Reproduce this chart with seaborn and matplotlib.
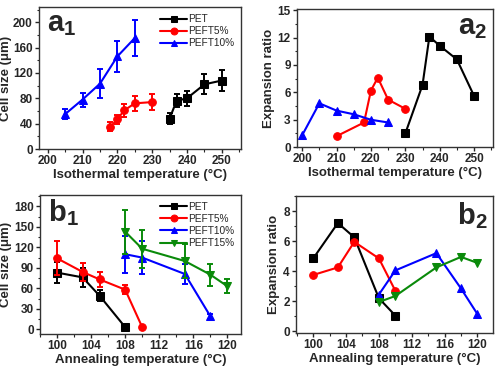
import numpy as np
import pandas as pd
import matplotlib
matplotlib.use("Agg")
import matplotlib.pyplot as plt
import seaborn as sns
from matplotlib.ticker import MultipleLocator, AutoMinorLocator

# ---- data ----
# a1 / a2: isothermal temperature series
pet_iso_t = [235, 237, 240, 245, 250]
pet_iso_size = [48, 76, 80, 102, 108]
pet_iso_err = [8, 10, 12, 16, 17]
peft5_iso_t = [218, 220, 222, 225, 230]
peft5_iso_size = [35, 47, 61, 72, 74]
peft5_iso_err = [7, 7, 10, 12, 13]
peft10_iso_t = [205, 210, 215, 220, 225]
peft10_iso_size = [55, 78, 103, 146, 175]
peft10_iso_err = [8, 11, 23, 25, 29]

pet_iso_t2 = [230, 235, 237, 240, 245, 250]
pet_iso_ratio = [1.5, 6.8, 12.1, 11.1, 9.6, 5.6]
peft5_iso_t2 = [210, 218, 220, 222, 225, 230]
peft5_iso_ratio = [1.2, 2.7, 6.2, 7.6, 5.2, 4.2]
peft10_iso_t2 = [200, 205, 210, 215, 220, 225]
peft10_iso_ratio = [1.3, 4.8, 4.0, 3.6, 3.0, 2.7]

# b1 / b2: annealing temperature series
pet_ann_t = [100, 103, 105, 108]
pet_ann_size = [83, 76, 49, 3]
pet_ann_err = [15, 14, 8, 2]
peft5_ann_t = [100, 103, 105, 108, 110]
peft5_ann_size = [104, 84, 73, 58, 3]
peft5_ann_err = [25, 13, 11, 7, 2]
peft10_ann_t = [108, 110, 115, 118]
peft10_ann_size = [110, 105, 81, 19]
peft10_ann_err = [27, 24, 15, 4]
peft15_ann_t = [108, 110, 115, 118, 120]
peft15_ann_size = [143, 118, 100, 80, 63]
peft15_ann_err = [32, 28, 25, 16, 10]

pet_ann_t2 = [100, 103, 105, 108, 110]
pet_ann_ratio = [4.85, 7.2, 6.25, 2.2, 1.05]
peft5_ann_t2 = [100, 103, 105, 108, 110]
peft5_ann_ratio = [3.75, 4.25, 5.95, 4.85, 2.7]
peft10_ann_t2 = [108, 110, 115, 118, 120]
peft10_ann_ratio = [2.45, 4.05, 5.2, 2.85, 1.15]
peft15_ann_t2 = [108, 110, 115, 118, 120]
peft15_ann_ratio = [1.95, 2.35, 4.25, 4.95, 4.55]

labels = ["PET", "PEFT5%", "PEFT10%", "PEFT15%"]
colors = ["black", "#ff0000", "#0000ff", "#0a8a0a"]
markers = ["s", "o", "^", "v"]

sns.set_style("ticks")
plt.rcParams["font.family"] = ["Liberation Sans", "DejaVu Sans"]
plt.rcParams["mathtext.fontset"] = "custom"
plt.rcParams["mathtext.bf"] = "Liberation Sans:bold"
plt.rcParams["mathtext.rm"] = "Liberation Sans:bold"

fig = plt.figure(figsize=(5, 3.67), dpi=100)
ax_a1 = fig.add_axes([0.078, 0.594, 0.404, 0.387])
ax_a2 = fig.add_axes([0.594, 0.599, 0.392, 0.376])
ax_b1 = fig.add_axes([0.080, 0.090, 0.402, 0.379])
ax_b2 = fig.add_axes([0.592, 0.093, 0.394, 0.373])


def draw(ax, xs, ys, i, err=None):
    df = pd.DataFrame({"x": xs, "y": ys})
    sns.lineplot(data=df, x="x", y="y", ax=ax, color=colors[i], marker=markers[i],
                 markersize=5.5, markeredgecolor=colors[i], linewidth=1.5,
                 label=labels[i], sort=False, legend=False)
    if err is not None:
        ax.errorbar(xs, ys, yerr=err, fmt="none", ecolor=colors[i],
                    elinewidth=1.4, capsize=2.5, capthick=1.4)


draw(ax_a1, pet_iso_t, pet_iso_size, 0, pet_iso_err)
draw(ax_a1, peft5_iso_t, peft5_iso_size, 1, peft5_iso_err)
draw(ax_a1, peft10_iso_t, peft10_iso_size, 2, peft10_iso_err)

draw(ax_a2, pet_iso_t2, pet_iso_ratio, 0)
draw(ax_a2, peft5_iso_t2, peft5_iso_ratio, 1)
draw(ax_a2, peft10_iso_t2, peft10_iso_ratio, 2)

draw(ax_b1, pet_ann_t, pet_ann_size, 0, pet_ann_err)
draw(ax_b1, peft5_ann_t, peft5_ann_size, 1, peft5_ann_err)
draw(ax_b1, peft10_ann_t, peft10_ann_size, 2, peft10_ann_err)
draw(ax_b1, peft15_ann_t, peft15_ann_size, 3, peft15_ann_err)

draw(ax_b2, pet_ann_t2, pet_ann_ratio, 0)
draw(ax_b2, peft5_ann_t2, peft5_ann_ratio, 1)
draw(ax_b2, peft10_ann_t2, peft10_ann_ratio, 2)
draw(ax_b2, peft15_ann_t2, peft15_ann_ratio, 3)

# axis limits / ticks
ax_a1.set_xlim(197.5, 255.5); ax_a1.set_ylim(0, 224)
ax_a1.xaxis.set_major_locator(MultipleLocator(10)); ax_a1.yaxis.set_major_locator(MultipleLocator(40))
ax_a2.set_xlim(198.5, 255.5); ax_a2.set_ylim(0, 15.1)
ax_a2.xaxis.set_major_locator(MultipleLocator(10)); ax_a2.yaxis.set_major_locator(MultipleLocator(3))
ax_b1.set_xlim(98, 121.6); ax_b1.set_ylim(-7, 197)
ax_b1.xaxis.set_major_locator(MultipleLocator(4)); ax_b1.yaxis.set_major_locator(MultipleLocator(30))
ax_b2.set_xlim(97.9, 121.9); ax_b2.set_ylim(-0.1, 9)
ax_b2.xaxis.set_major_locator(MultipleLocator(4)); ax_b2.yaxis.set_major_locator(MultipleLocator(2))

for ax in [ax_a1, ax_a2]:
    ax.set_xlabel("Isothermal temperature (°C)", fontsize=9.5, fontweight="bold", labelpad=1)
for ax in [ax_b1, ax_b2]:
    ax.set_xlabel("Annealing temperature (°C)", fontsize=9.5, fontweight="bold", labelpad=1)
for ax in [ax_a1, ax_b1]:
    ax.set_ylabel("Cell size (μm)", fontsize=9.5, fontweight="bold", labelpad=1)
for ax in [ax_a2, ax_b2]:
    ax.set_ylabel("Expansion ratio", fontsize=9.5, fontweight="bold", labelpad=2)

for ax in [ax_a1, ax_a2, ax_b1, ax_b2]:
    for s in ax.spines.values():
        s.set_visible(True)
        s.set_linewidth(1.0)
        s.set_color("#333333")
    ax.xaxis.set_minor_locator(AutoMinorLocator(2))
    ax.yaxis.set_minor_locator(AutoMinorLocator(2))
    ax.tick_params(which="major", direction="out", length=3, width=1, labelsize=8.5, pad=1.5)
    ax.tick_params(which="minor", direction="out", length=1.8, width=0.8)
    for lab in ax.get_xticklabels() + ax.get_yticklabels():
        lab.set_fontweight("bold")

ax_a1.text(0.04, 0.98, r"$\mathbf{a_1}$", transform=ax_a1.transAxes, fontsize=21, va="top", ha="left")
ax_a2.text(0.97, 0.97, r"$\mathbf{a_2}$", transform=ax_a2.transAxes, fontsize=21, va="top", ha="right")
ax_b1.text(0.04, 0.98, r"$\mathbf{b_1}$", transform=ax_b1.transAxes, fontsize=21, va="top", ha="left")
ax_b2.text(0.97, 0.97, r"$\mathbf{b_2}$", transform=ax_b2.transAxes, fontsize=21, va="top", ha="right")

for ax in [ax_a1, ax_b1]:
    ax.legend(loc="upper right", frameon=False, fontsize=7.3, handlelength=2.6,
              handletextpad=0.1, labelspacing=0.2, borderaxespad=0.3, markerscale=0.9)

fig.savefig("out.png", dpi=100)
